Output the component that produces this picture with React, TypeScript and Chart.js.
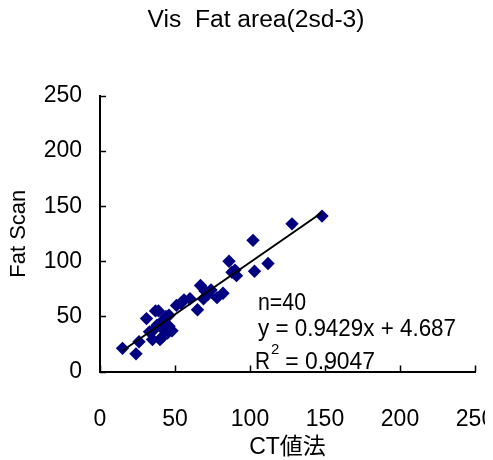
import React, { useEffect, useRef } from "react";
import { Chart, registerables } from "chart.js";

Chart.register(...registerables);

const ctValues = [
  15, 24, 26, 31, 33, 35, 37, 39, 41, 42, 44, 45, 46, 48, 38, 36, 43, 40, 51, 54,
  56, 60, 65, 67, 69, 70, 72, 74, 78, 82, 86, 88, 90, 91, 102, 103, 112, 128, 148, 46,
];
const fatScanValues = [
  21, 16, 27, 48, 36, 29, 55, 55, 45, 32, 50, 35, 41, 37, 42, 38, 37, 29, 60, 62,
  65, 66, 56, 78, 66, 73, 70, 74, 67, 71, 100, 90, 92, 87, 119, 91, 98, 134, 141, 51,
];
const axisTicks = [0, 50, 100, 150, 200, 250];
const slope = 0.9429;
const intercept = 4.687;
const titleText = "Vis  Fat area(2sd-3)";
const xTitle = "CT値法";
const yTitle = "Fat Scan";
const noteN = "n=40";
const noteEq = "y = 0.9429x + 4.687";
const noteR2 = "0.9047";

const FONT = "'Liberation Sans', Arial, 'Noto Sans CJK JP', sans-serif";

function fitText(ctx: any, text: string, x: number, y: number, width: number) {
  const w = ctx.measureText(text).width;
  ctx.save();
  ctx.translate(x, y);
  ctx.scale(width / w, 1);
  ctx.fillText(text, 0, 0);
  ctx.restore();
}

export default function App() {
  const ref = useRef<HTMLCanvasElement>(null);
  useEffect(() => {
    document.body.style.marginBottom = "0px";
    if (!ref.current) return;
    const xMin = Math.min(...ctValues);
    const xMax = Math.max(...ctValues);
    const trend = [
      { x: xMin, y: slope * xMin + intercept },
      { x: xMax, y: slope * xMax + intercept },
    ];
    const extras = {
      id: "extras",
      afterDraw(chart: any) {
        const ctx = chart.ctx;
        const xs = chart.scales.x;
        const ys = chart.scales.y;
        const area = chart.chartArea;
        ctx.save();
        // inward ticks
        ctx.strokeStyle = "#000";
        ctx.lineWidth = 1.5;
        ctx.beginPath();
        axisTicks.forEach((t) => {
          const px = Math.round(xs.getPixelForValue(t)) + 0.5;
          ctx.moveTo(px, area.bottom);
          ctx.lineTo(px, area.bottom - 6);
          const py = Math.round(ys.getPixelForValue(t)) + 0.5;
          ctx.moveTo(area.left, py);
          ctx.lineTo(area.left + 6, py);
        });
        ctx.stroke();
        // title
        ctx.fillStyle = "#000";
        ctx.textBaseline = "middle";
        ctx.textAlign = "center";
        ctx.font = `23px ${FONT}`;
        fitText(ctx, titleText, 248, 13, 217);
        // annotations
        ctx.textAlign = "left";
        ctx.font = `24px ${FONT}`;
        fitText(ctx, noteN, 250, 295, 48);
        fitText(ctx, noteEq, 250, 321, 198);
        fitText(ctx, "R", 247, 354, 15);
        ctx.font = `15px ${FONT}`;
        ctx.fillText("2", 263, 342);
        ctx.font = `24px ${FONT}`;
        fitText(ctx, " = " + noteR2, 271, 354, 96);
        ctx.restore();
      },
    };
    const chart = new Chart(ref.current, {
      type: "scatter",
      data: {
        datasets: [
          {
            type: "line",
            data: trend,
            borderColor: "#000",
            borderWidth: 2,
            pointRadius: 0,
            showLine: true,
            order: 0,
          } as any,
          {
            data: ctValues.map((x, i) => ({ x, y: fatScanValues[i] })),
            backgroundColor: "#000080",
            borderColor: "#000080",
            borderWidth: 0,
            pointStyle: "rectRot",
            pointRadius: 6.7,
            order: 1,
          },
        ],
      },
      options: {
        animation: false,
        responsive: false,
        maintainAspectRatio: false,
        layout: { padding: { top: 88, right: 10, left: 0, bottom: 0 } },
        plugins: { legend: { display: false }, tooltip: { enabled: false }, title: { display: false } },
        scales: {
          x: {
            type: "linear",
            min: 0,
            max: 250,
            afterFit(scale: any) {
              scale.height = 88.5;
              scale.paddingLeft = 0;
              scale.paddingRight = 0;
            },
            afterBuildTicks(scale: any) {
              scale.ticks = axisTicks.map((v) => ({ value: v }));
            },
            grid: { display: false, drawTicks: false },
            border: { display: true, color: "#000", width: 2 },
            ticks: {
              color: "#000",
              font: { family: FONT, size: 23 },
              padding: 34,
              maxRotation: 0,
              autoSkip: false,
            },
            title: {
              display: true,
              text: xTitle,
              color: "#000",
              font: { family: FONT, size: 23, lineHeight: 1 },
              padding: { top: 0, bottom: 1 },
            },
          },
          y: {
            type: "linear",
            min: 0,
            max: 250,
            afterFit(scale: any) {
              scale.width = 92;
              scale.paddingTop = 0;
              scale.paddingBottom = 0;
            },
            afterBuildTicks(scale: any) {
              scale.ticks = axisTicks.map((v) => ({ value: v }));
            },
            grid: { display: false, drawTicks: false },
            border: { display: true, color: "#000", width: 2 },
            ticks: {
              color: "#000",
              font: { family: FONT, size: 23 },
              padding: 18,
              autoSkip: false,
            },
            title: {
              display: true,
              text: yTitle,
              color: "#000",
              font: { family: FONT, size: 22, lineHeight: 1 },
              padding: { top: 0, bottom: 0 },
            },
          },
        },
      },
      plugins: [extras],
    });
    return () => chart.destroy();
  }, []);
  return (
    <canvas
      ref={ref}
      width={477}
      height={452}
      style={{ display: "block" }}
    />
  );
}
